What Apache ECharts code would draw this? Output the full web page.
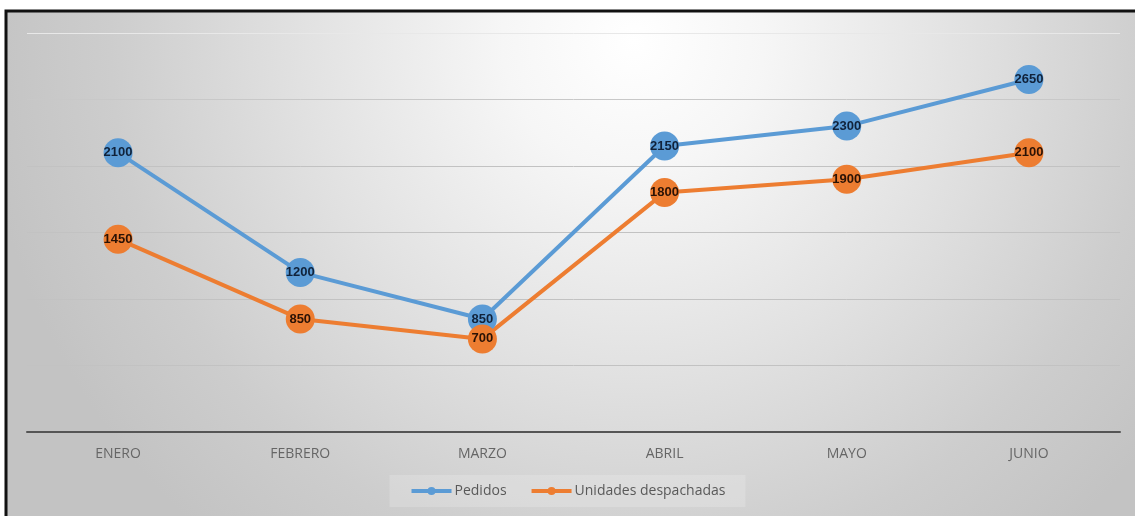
<!DOCTYPE html>
<html>
<head>
<meta charset="utf-8">
<script src="https://cdn.jsdelivr.net/npm/echarts@6/dist/echarts.min.js"></script>
<style>
  html, body { margin: 0; padding: 0; background: #ffffff; }
  #chart { width: 1135px; height: 516px; }
</style>
</head>
<body>
<div id="chart"></div>
<script>
// Monthly orders vs. dispatched units
const months = ['ENERO', 'FEBRERO', 'MARZO', 'ABRIL', 'MAYO', 'JUNIO'];
const pedidos = [2100, 1200, 850, 2150, 2300, 2650];
const despachadas = [1450, 850, 700, 1800, 1900, 2100];

const BLUE = '#5B9BD5';
const ORANGE = '#ED7D31';

const chart = echarts.init(document.getElementById('chart'), null, { renderer: 'canvas' });

function lineSeries(name, data, color, labelColor) {
  return {
    name: name,
    type: 'line',
    data: data,
    symbol: 'circle',
    symbolSize: 29,
    lineStyle: { color: color, width: 4 },
    itemStyle: { color: color },
    label: {
      show: true,
      position: 'inside',
      color: labelColor,
      fontFamily: 'Liberation Sans, Arial, sans-serif',
      fontWeight: 'bold',
      fontSize: 13
    },
    emphasis: { disabled: true },
    animation: false
  };
}

chart.setOption({
  animation: false,
  backgroundColor: '#ffffff',
  graphic: [{
    type: 'rect',
    z: -10,
    silent: true,
    shape: { x: 6, y: 11, width: 1140, height: 520 },
    style: {
      fill: {
        type: 'radial', x: 0.55, y: 0.06, r: 1.25,
        colorStops: [
          { offset: 0, color: '#ffffff' },
          { offset: 0.2, color: '#f6f6f6' },
          { offset: 0.5, color: '#e2e2e2' },
          { offset: 0.8, color: '#cdcdcd' },
          { offset: 1, color: '#c3c3c3' }
        ]
      },
      stroke: '#111111',
      lineWidth: 3
    }
  }],
  grid: { left: 27, right: 15, top: 33, bottom: 84 },
  legend: {
    bottom: 9,
    left: 'center',
    data: ['Pedidos', 'Unidades despachadas'],
    itemWidth: 40,
    itemHeight: 10,
    itemGap: 23,
    padding: [9, 20],
    backgroundColor: 'rgba(255,255,255,0.18)',
    lineStyle: { width: 4 },
    textStyle: { color: '#595959', fontFamily: 'Open Sans, sans-serif', fontSize: 14, padding: [0, 0, 0, -2] }
  },
  xAxis: {
    type: 'category',
    data: months,
    boundaryGap: true,
    axisLine: { show: true, lineStyle: { color: '#555555', width: 2 } },
    axisTick: { show: false },
    axisLabel: { color: '#666666', fontFamily: 'Open Sans, sans-serif', fontSize: 14, margin: 15 }
  },
  yAxis: {
    type: 'value',
    min: 0,
    max: 3000,
    interval: 500,
    axisLine: { show: false },
    axisTick: { show: false },
    axisLabel: { show: false },
    splitLine: {
      lineStyle: {
        color: ['#c2c2c2', '#c2c2c2', '#c2c2c2', '#c2c2c2', '#c2c2c2', '#c8c8c8', '#e8e8e8'],
        width: 1
      }
    }
  },
  series: [
    lineSeries('Pedidos', pedidos, BLUE, '#10223a'),
    lineSeries('Unidades despachadas', despachadas, ORANGE, '#2a1205')
  ]
});
</script>
</body>
</html>
